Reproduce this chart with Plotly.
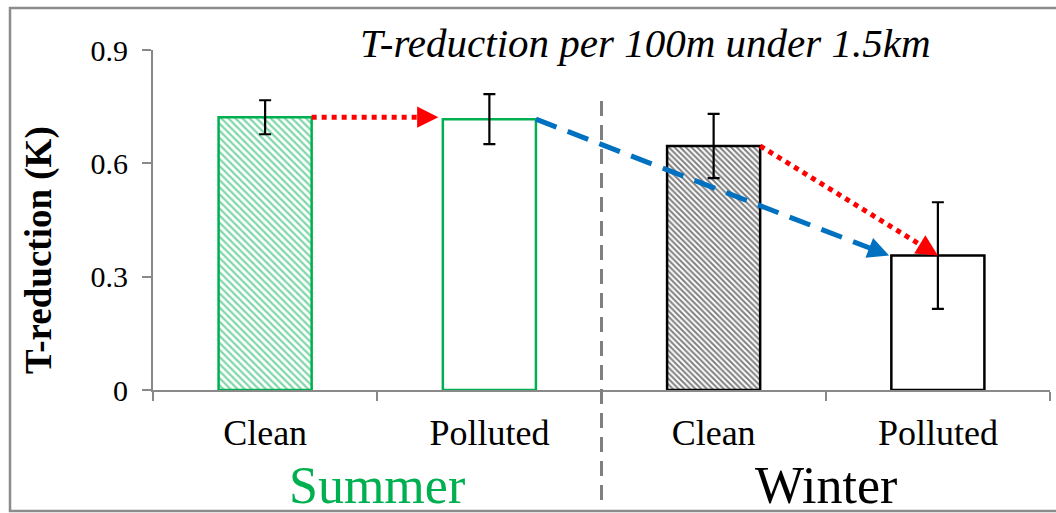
import plotly.graph_objects as go

# ---- data ----
categories = ["Clean", "Polluted", "Clean", "Polluted"]
seasons = ["Summer", "Winter"]
t_reduction = [0.722, 0.717, 0.646, 0.356]
t_error = [0.045, 0.066, 0.085, 0.141]
y_ticks = [0, 0.3, 0.6, 0.9]
y_tick_text = ["0", "0.3", "0.6", "0.9"]

# ---- layout geometry ----
W, H = 1056, 513
L, R, T, B = 153, 6, 50, 123
PW, PH = W - L - R, H - T - B
Y_MAX = 0.9
BAR_W = 0.415
HALF = BAR_W / 2

GREEN = "#00B050"
RED = "#FF0000"
BLUE = "#0070C0"
AXIS_GRAY = "#898989"
FONT = "Liberation Serif"


def to_px(x, y):
    """data -> pixel coordinates inside the page"""
    return L + (x + 0.5) / 4 * PW, T + PH - y / Y_MAX * PH


def to_data(px, py):
    return (px - L) / PW * 4 - 0.5, (T + PH - py) / PH * Y_MAX


def paper_x(px):
    return (px - L) / PW


def paper_y(py):
    return (T + PH - py) / PH


fig = go.Figure()

fig.add_trace(go.Bar(
    x=list(range(len(categories))),
    y=t_reduction,
    width=BAR_W,
    marker=dict(
        color="white",
        line=dict(color=[GREEN, GREEN, "black", "black"], width=2.5),
        pattern=dict(
            shape=["\\", "", "\\", ""],
            fgcolor=[GREEN, GREEN, "black", "black"],
            bgcolor="white",
            size=[5, 5, 4, 4],
            solidity=[0.45, 0.45, 0.5, 0.5],
        ),
    ),
    error_y=dict(type="data", array=t_error, color="black", thickness=2.2, width=6),
    showlegend=False,
    hoverinfo="skip",
))


def arrow(x0, y0, x1, y1, color, dash, head_px=16):
    """a styled line from (x0,y0) to (x1,y1) finished with a filled arrowhead"""
    p0 = to_px(x0, y0)
    p1 = to_px(x1, y1)
    dx, dy = p1[0] - p0[0], p1[1] - p0[1]
    n = (dx * dx + dy * dy) ** 0.5
    bx, by = p1[0] - dx / n * head_px, p1[1] - dy / n * head_px
    xb, yb = to_data(bx, by)
    fig.add_trace(go.Scatter(
        x=[x0, xb], y=[y0, yb], mode="lines",
        line=dict(color=color, width=5, dash=dash),
        showlegend=False, hoverinfo="skip",
    ))
    fig.add_annotation(
        x=x1, y=y1, ax=xb, ay=yb, xref="x", yref="y", axref="x", ayref="y",
        text="", showarrow=True, arrowhead=2, arrowsize=1.7, arrowwidth=2.5,
        arrowcolor=color, standoff=0, startstandoff=0,
    )


DOT = "5px,5px"
DASH = "22px,12px"

# summer clean -> summer polluted
arrow(0 + HALF, t_reduction[0], 1 - HALF - 0.02, t_reduction[0], RED, DOT)
# summer polluted -> winter polluted
arrow(1 + HALF, t_reduction[1], 3 - HALF - 0.01, t_reduction[3], BLUE, DASH, head_px=18)
# winter clean -> winter polluted
arrow(2 + HALF, t_reduction[2], 3, t_reduction[3], RED, DOT)

# season divider
fig.add_shape(type="line", xref="x", yref="paper", x0=1.5, x1=1.5,
              y0=paper_y(500), y1=paper_y(93),
              line=dict(color="#808080", width=3, dash="15px,9px"))

# outer frame
fig.add_shape(type="rect", xref="paper", yref="paper",
              x0=paper_x(10), x1=paper_x(1070), y0=paper_y(511), y1=paper_y(8),
              line=dict(color="#8c8c8c", width=2.5), fillcolor="rgba(0,0,0,0)",
              layer="below")

# title
fig.add_annotation(
    xref="paper", yref="paper", x=paper_x(645), y=paper_y(43),
    text="<i>T-reduction per 100m under 1.5km</i>", showarrow=False,
    font=dict(family=FONT, size=41, color="black"), xanchor="center", yanchor="middle",
)

# y axis title
fig.add_annotation(
    xref="paper", yref="paper", x=paper_x(39), y=paper_y(250),
    text="<b>T-reduction (K)</b>", textangle=-90, showarrow=False,
    font=dict(family=FONT, size=37, color="black"), xanchor="center", yanchor="middle",
)

# season labels
for i, (season, col) in enumerate(zip(seasons, [GREEN, "black"])):
    fig.add_annotation(
        xref="x", yref="paper", x=0.5 + 2 * i, y=paper_y(486),
        text=season, showarrow=False,
        font=dict(family=FONT, size=52, color=col), xanchor="center", yanchor="middle",
    )

fig.update_xaxes(
    range=[-0.5, 3.5],
    tickvals=list(range(len(categories))),
    ticktext=categories,
    ticks="",
    ticklabelstandoff=10,
    tickfont=dict(family=FONT, size=36, color="black"),
    showline=True, linecolor=AXIS_GRAY, linewidth=2,
    showgrid=False, zeroline=False,
    minor=dict(tickvals=[-0.5, 0.5, 1.5, 2.5, 3.5], ticks="outside", ticklen=9,
               tickcolor=AXIS_GRAY, tickwidth=2, showgrid=False),
)
fig.update_yaxes(
    range=[0, Y_MAX],
    tickvals=y_ticks, ticktext=y_tick_text,
    ticks="outside", ticklen=9, tickcolor=AXIS_GRAY, tickwidth=2,
    ticklabelstandoff=8,
    tickfont=dict(family=FONT, size=30, color="black"),
    showline=True, linecolor=AXIS_GRAY, linewidth=2,
    showgrid=False, zeroline=False,
)

fig.update_layout(
    width=W, height=H,
    margin=dict(l=L, r=R, t=T, b=B),
    paper_bgcolor="white", plot_bgcolor="white",
    showlegend=False,
)

fig.write_html("out.html")
